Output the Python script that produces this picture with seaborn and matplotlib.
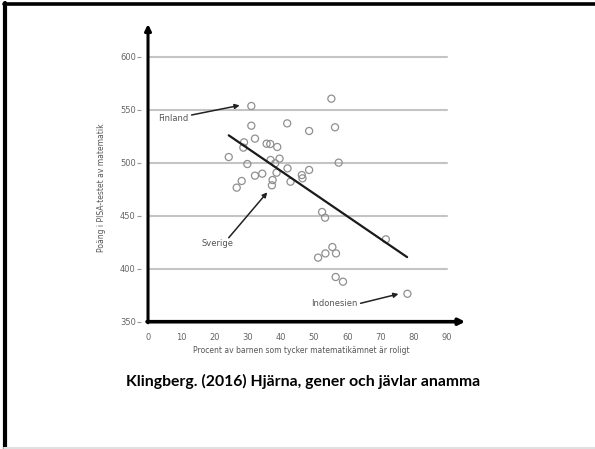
import matplotlib
matplotlib.use("Agg")
import matplotlib.pyplot as plt
import seaborn as sns
import pandas as pd
from matplotlib.lines import Line2D

sns.set_theme(style="white")
plt.rcParams["font.family"] = ["DejaVu Sans"]

# PISA points: % of pupils who think maths is fun vs PISA maths score
fun_pct = [31.1, 55.2, 31.1, 41.9, 48.5, 56.3, 32.2, 28.9, 28.7, 35.7,
           36.8, 38.9, 24.3, 29.9, 36.9, 39.6, 38.3, 57.4, 42.0, 48.5,
           46.3, 46.5, 34.4, 32.2, 38.7, 37.5, 42.9, 28.2, 26.7, 37.3,
           52.4, 53.3, 71.6, 55.5, 53.4, 56.6, 51.2, 56.5, 58.7, 78.1]
pisa_score = [553.7, 560.6, 535.1, 537.3, 530.1, 533.6, 522.9, 519.4, 514.4, 518.1,
              517.8, 515.0, 505.5, 498.9, 502.7, 504.0, 499.6, 500.2, 494.8, 493.3,
              488.5, 485.4, 489.8, 487.9, 490.7, 483.8, 482.2, 482.9, 476.6, 478.8,
              453.6, 448.2, 427.8, 420.5, 414.5, 414.5, 410.5, 392.2, 387.8, 376.4]
trend_x = [24.3, 78.0]
trend_y = [526.0, 411.0]

x_ticks = [0, 10, 20, 30, 40, 50, 60, 70, 80, 90]
y_ticks = [350, 400, 450, 500, 550, 600]

df = pd.DataFrame({"fun": fun_pct, "score": pisa_score})

fig = plt.figure(figsize=(5.95, 4.49), dpi=100)
ax = fig.add_axes([0.2376, 0.2717, 0.5471, 0.6769])

# grid lines drawn by hand so they stop at 90
for yv in y_ticks[1:]:
    ax.plot([0, 90], [yv, yv], color="#c4c4c4", lw=1.5, zorder=1)

sns.scatterplot(data=df, x="fun", y="score", ax=ax, marker="o", s=26,
                facecolor="none", edgecolor="#909090", linewidth=0.9, zorder=3)
ax.plot(trend_x, trend_y, color="#1a1a1a", lw=1.6, zorder=4)

# axes with arrow heads
ax.annotate("", xy=(0, 631), xytext=(0, 349),
            arrowprops=dict(arrowstyle="-|>", color="black", lw=2.2,
                            mutation_scale=9, shrinkA=0, shrinkB=0))
ax.annotate("", xy=(95.5, 350), xytext=(-0.3, 350),
            arrowprops=dict(arrowstyle="-|>", color="black", lw=2.6,
                            mutation_scale=9, shrinkA=0, shrinkB=0))

ax.set_xlim(-2, 96)
ax.set_ylim(345, 632)
for s in ax.spines.values():
    s.set_visible(False)
ax.set_xticks(x_ticks)
ax.set_yticks(y_ticks)
ax.tick_params(axis="x", length=0, pad=4, labelsize=6, labelcolor="#666666")
ax.tick_params(axis="y", length=3, width=0.8, color="#999999", pad=1,
               labelsize=6, labelcolor="#666666", left=True)
ax.set_xlabel("Procent av barnen som tycker matematikämnet är roligt",
              fontsize=5.5, color="#555555")
ax.set_ylabel("Poäng i PISA-testet av matematik", fontsize=5.5, color="#555555")
ax.xaxis.set_label_coords(0.49, -0.061)
ax.yaxis.set_label_coords(-0.109, 0.457)
ax.grid(False)

# country annotations
arrow_kw = dict(arrowstyle="-|>", color="#222222", lw=1.1, mutation_scale=7,
                shrinkA=0, shrinkB=0)
ax.text(2.9, 542, "Finland", fontsize=6, color="#555555", va="center")
ax.annotate("", xy=(27.6, 554.3), xytext=(13.1, 545.2), arrowprops=arrow_kw)
ax.text(21, 423.6, "Sverige", fontsize=6, color="#555555", va="center", ha="center")
ax.annotate("", xy=(35.9, 472.2), xytext=(24.3, 429.3), arrowprops=arrow_kw)
ax.text(49.2, 367.4, "Indonesien", fontsize=6, color="#555555", va="center")
ax.annotate("", xy=(75.4, 376.2), xytext=(64.0, 367.4), arrowprops=arrow_kw)

# caption
fig.text(0.509, 1 - 381 / 449, "Klingberg. (2016) Hjärna, gener och jävlar anamma",
         ha="center", va="center", fontsize=11.3, fontweight="bold",
         family=["Lato", "DejaVu Sans"], color="black")

# slide border
fig.add_artist(Line2D([4 / 595, 1], [1 - 4 / 449, 1 - 4 / 449],
                      color="black", lw=2.6, transform=fig.transFigure))
fig.add_artist(Line2D([4.5 / 595, 4.5 / 595], [0, 1 - 3 / 449],
                      color="black", lw=3.0, transform=fig.transFigure))
fig.add_artist(Line2D([4 / 595, 1], [1.5 / 449, 1.5 / 449],
                      color="#e0e0e0", lw=1.5, transform=fig.transFigure))

fig.savefig("out.png", dpi=100)
